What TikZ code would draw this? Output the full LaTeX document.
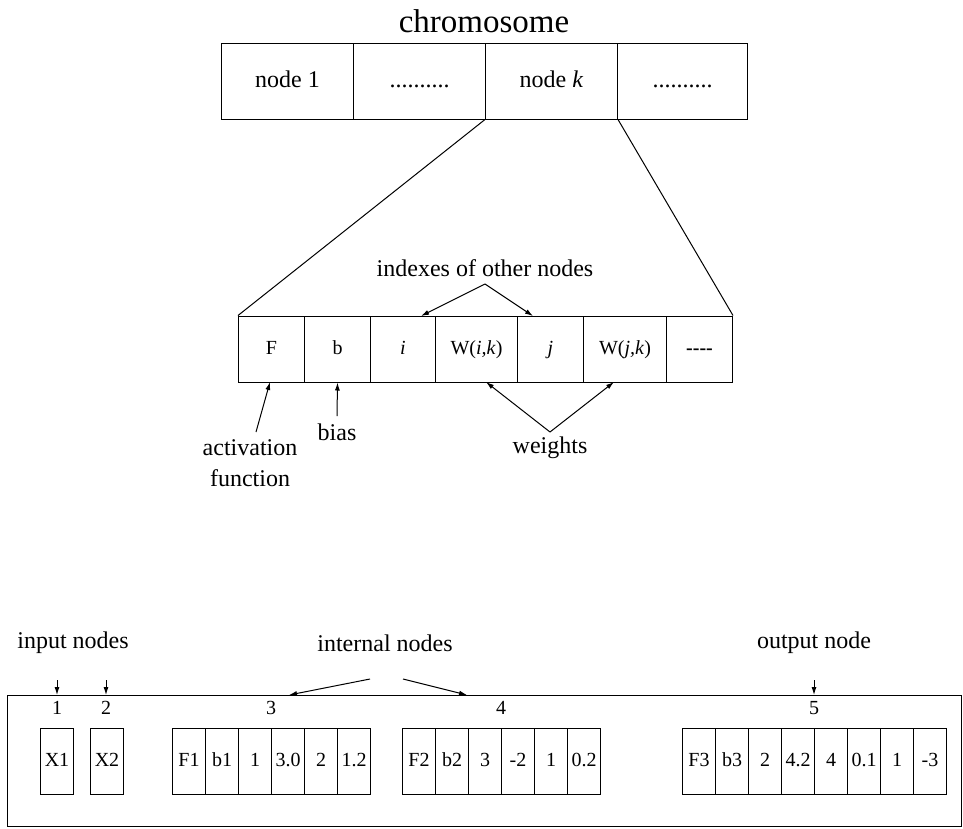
\documentclass[tikz,border=0pt]{standalone}
\usepackage{fontspec}
\setmainfont{Liberation Serif}
\usetikzlibrary{arrows.meta}
\newcommand{\fs}[1]{\fontsize{#1}{#1}\selectfont}
\begin{document}
\begin{tikzpicture}[x=1pt,y=-1pt,
  line width=1pt,
  arr/.style={-{Latex[length=8pt,width=5pt]}},
  topcell/.style={draw,anchor=west,minimum height=76pt,inner sep=0pt,text height=17pt,text depth=5pt,font=\fs{24}},
  midcell/.style={draw,anchor=west,minimum height=66pt,inner sep=0pt,text height=14pt,text depth=4pt,font=\fs{20}},
  gene/.style={draw,anchor=west,minimum width=33pt,minimum height=66pt,inner sep=0pt,text height=14pt,text depth=4pt,font=\fs{20}},
  lbl/.style={inner sep=0pt,font=\fs{24}},
  num/.style={inner sep=0pt,font=\fs{20}}]
\useasboundingbox (0,0) rectangle (963,828);

% chromosome
\node[inner sep=0pt,font=\fs{33}] (title) at (484,21) {chromosome};
\node[topcell,minimum width=132pt] (n1) at (221,81) {node 1};
\node[topcell,minimum width=132pt] (d1) at (353,81) {..........};
\node[topcell,minimum width=132pt] (nk) at (485,81) {node \textit{k}};
\node[topcell,minimum width=130pt] (d2) at (617,81) {..........};

% genes of node k
\node[midcell,minimum width=66pt] (F) at (238,349) {F};
\node[midcell,minimum width=66pt] (b) at (304,349) {b};
\node[midcell,minimum width=65pt] (i) at (370,349) {\textit{i}};
\node[midcell,minimum width=82pt] (Wi) at (435,349) {W(\textit{i,k})};
\node[midcell,minimum width=66pt] (j) at (517,349) {\textit{j}};
\node[midcell,minimum width=83pt] (Wj) at (583,349) {W(\textit{j,k})};
\node[midcell,minimum width=66pt] (dd) at (666,349) {\textbf{-{}-{}-{}-}};

\draw (nk.south west) -- (F.north west);
\draw (nk.south east) -- (dd.north east);

% annotations
\node[lbl] (idx) at (485,268) {indexes of other nodes};
\coordinate (idxapex) at (485,284);
\coordinate (iend) at (421,316);
\coordinate (jend) at (533,316);
\draw[arr] (idxapex) -- (iend);
\draw[arr] (idxapex) -- (jend);

\node[lbl] (act) at (250,448) {activation};
\node[lbl] (fun) at (250,478) {function};
\coordinate (actfoot) at (256,432);
\coordinate (acttip) at (270,382);
\draw[arr] (actfoot) -- (acttip);

\node[lbl] (bias) at (337,432) {bias};
\coordinate (biasfoot) at (337,416);
\draw[arr] (biasfoot) -- (b.south);

\node[lbl] (wts) at (550,448) {weights};
\coordinate (wapex) at (550,432);
\coordinate (wiend) at (486,382);
\coordinate (wjend) at (614,382);
\draw[arr] (wapex) -- (wiend);
\draw[arr] (wapex) -- (wjend);

% example chromosome
\node[draw,anchor=north west,minimum width=954pt,minimum height=131pt,inner sep=0pt] (frame) at (7,695) {};

\node[gene] (x1) at (40,761) {X1};
\node[gene] (x2) at (90,761) {X2};
\foreach \t [count=\n] in {F1,b1,1,3.0,2,1.2}
  \node[gene] (ga\n) at ({172+(\n-1)*33},761) {\t};
\foreach \t [count=\n] in {F2,b2,3,-2,1,0.2}
  \node[gene] (gb\n) at ({402+(\n-1)*33},761) {\t};
\foreach \t [count=\n] in {F3,b3,2,4.2,4,0.1,1,-3}
  \node[gene] (gc\n) at ({682+(\n-1)*33},761) {\t};

\node[num] (k1) at (57,708) {1};
\node[num] (k2) at (106,708) {2};
\node[num] (k3) at (271,708) {3};
\node[num] (k4) at (501,708) {4};
\node[num] (k5) at (814,708) {5};

\node[lbl] (inp) at (73,643) {input nodes};
\node[lbl] (int) at (385,643) {internal nodes};
\node[lbl] (out) at (814,643) {output node};

\coordinate (a1) at (57,680);   \coordinate (a1t) at (57,695);
\coordinate (a2) at (106,680);  \coordinate (a2t) at (106,695);
\coordinate (a3) at (370,679);  \coordinate (a3t) at (289,695);
\coordinate (a4) at (403,679);  \coordinate (a4t) at (467,695);
\coordinate (a5) at (814,680);  \coordinate (a5t) at (814,695);
\foreach \s in {1,...,5} \draw[arr] (a\s) -- (a\s t);
\end{tikzpicture}
\end{document}
